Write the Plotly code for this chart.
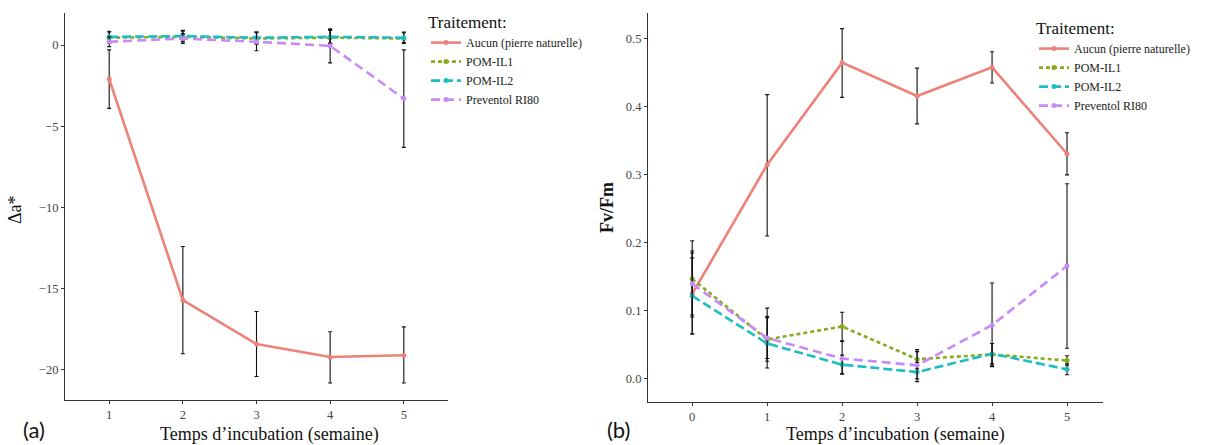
import plotly.graph_objects as go

# ---------------- data ----------------
series = ["Aucun (pierre naturelle)", "POM-IL1", "POM-IL2", "Preventol RI80"]

a_weeks = [1, 2, 3, 4, 5]
a_aucun = [-2.1, -15.7, -18.4, -19.2, -19.1]
a_aucun_hi = [-0.3, -12.4, -16.4, -17.65, -17.35]
a_aucun_lo = [-3.9, -19.0, -20.4, -20.8, -20.8]
a_il1 = [0.45, 0.5, 0.4, 0.45, 0.4]
a_il1_hi = [0.8, 0.85, 0.75, 0.9, 0.75]
a_il1_lo = [0.1, 0.2, 0.05, 0.1, 0.1]
a_il2 = [0.5, 0.55, 0.45, 0.5, 0.45]
a_il2_hi = [0.85, 0.9, 0.8, 0.95, 0.8]
a_il2_lo = [0.15, 0.25, 0.1, 0.1, 0.15]
a_prev = [0.2, 0.4, 0.2, -0.05, -3.3]
a_prev_hi = [0.5, 0.7, 0.8, 1.0, -0.3]
a_prev_lo = [-0.1, 0.1, -0.35, -1.1, -6.3]

b_weeks = [0, 1, 2, 3, 4, 5]
b_aucun = [0.125, 0.315, 0.465, 0.416, 0.458, 0.331]
b_aucun_hi = [0.185, 0.418, 0.515, 0.457, 0.481, 0.362]
b_aucun_lo = [0.066, 0.21, 0.414, 0.375, 0.435, 0.300]
b_il1 = [0.147, 0.058, 0.077, 0.029, 0.036, 0.027]
b_il1_hi = [0.203, 0.092, 0.098, 0.043, 0.052, 0.034]
b_il1_lo = [0.091, 0.026, 0.056, 0.015, 0.020, 0.020]
b_il2 = [0.122, 0.052, 0.021, 0.010, 0.037, 0.014]
b_il2_hi = [0.178, 0.104, 0.035, 0.024, 0.052, 0.022]
b_il2_lo = [0.066, 0.016, 0.007, -0.004, 0.022, 0.006]
b_prev = [0.140, 0.060, 0.030, 0.020, 0.079, 0.166]
b_prev_hi = [0.188, 0.090, 0.055, 0.040, 0.141, 0.287]
b_prev_lo = [0.094, 0.030, 0.008, 0.000, 0.018, 0.045]

colors = ["#EE8279", "#86AC1E", "#1DBDC2", "#C98AF5"]
dashes = ["solid", "4px,3px", "9px,4px", "9px,5px"]

SERIF = "Liberation Serif"

fig = go.Figure()


def add(x, y, hi, lo, i, xa, ya, legend):
    fig.add_trace(go.Scatter(
        x=x, y=y, mode="lines+markers", name=series[i],
        line=dict(color=colors[i], width=2.6, dash=dashes[i]),
        marker=dict(color=colors[i], size=5),
        error_y=dict(type="data", symmetric=False,
                     array=[h - v for h, v in zip(hi, y)],
                     arrayminus=[v - l for l, v in zip(lo, y)],
                     color="#111111", thickness=1.1, width=2),
        xaxis=xa, yaxis=ya, legend=legend,
    ))


a_sets = [(a_aucun, a_aucun_hi, a_aucun_lo), (a_il1, a_il1_hi, a_il1_lo),
          (a_il2, a_il2_hi, a_il2_lo), (a_prev, a_prev_hi, a_prev_lo)]
b_sets = [(b_aucun, b_aucun_hi, b_aucun_lo), (b_il1, b_il1_hi, b_il1_lo),
          (b_il2, b_il2_hi, b_il2_lo), (b_prev, b_prev_hi, b_prev_lo)]
for i, (y, hi, lo) in enumerate(a_sets):
    add(a_weeks, y, hi, lo, i, "x", "y", "legend")
for i, (y, hi, lo) in enumerate(b_sets):
    add(b_weeks, y, hi, lo, i, "x2", "y2", "legend2")

W, H = 1215, 445
ax_common = dict(showline=True, linecolor="#333333", linewidth=1.2, ticks="outside",
                 ticklen=3, tickcolor="#333333", showgrid=False, zeroline=False,
                 tickfont=dict(family=SERIF, size=12.5, color="#444444"))

legend_common = dict(
    title=dict(text="Traitement:", font=dict(family=SERIF, size=17, color="#111")),
    font=dict(family=SERIF, size=12, color="#222"),
    bgcolor="rgba(0,0,0,0)", xanchor="left", yanchor="top",
    tracegroupgap=0, itemwidth=30,
)

fig.update_layout(
    width=W, height=H, margin=dict(l=0, r=0, t=0, b=0),
    paper_bgcolor="white", plot_bgcolor="white",
    xaxis=dict(domain=[65 / W, 448 / W], range=[0.4, 5.6], tickvals=a_weeks,
               anchor="y", **ax_common),
    yaxis=dict(domain=[45 / H, 432 / H], range=[-21.85, 1.97],
               tickvals=[0, -5, -10, -15, -20], anchor="x", **ax_common),
    xaxis2=dict(domain=[648 / W, 1103 / W], range=[-0.59, 5.48], tickvals=b_weeks,
                anchor="y2", **ax_common),
    yaxis2=dict(domain=[43 / H, 432 / H], range=[-0.034, 0.538],
                tickvals=[0.0, 0.1, 0.2, 0.3, 0.4, 0.5],
                tickformat=".1f", anchor="x2", **ax_common),
    legend=dict(x=426 / W, y=1 - 6 / H, **legend_common),
    legend2=dict(x=1034 / W, y=1 - 12 / H, **legend_common),
    showlegend=True,
)

ann = [
    dict(text="Temps d\u2019incubation (semaine)", x=269 / W, y=1 - 434 / H,
         font=dict(family=SERIF, size=18, color="#111")),
    dict(text="Temps d\u2019incubation (semaine)", x=895 / W, y=1 - 434 / H,
         font=dict(family=SERIF, size=18, color="#111")),
    dict(text="\u0394a*", x=15 / W, y=1 - 210 / H, textangle=-90,
         font=dict(family=SERIF, size=18, color="#111")),
    dict(text="<b>Fv/Fm</b>", x=607 / W, y=1 - 208 / H, textangle=-90,
         font=dict(family=SERIF, size=18, color="#111")),
    dict(text="(a)", x=34 / W, y=1 - 429 / H,
         font=dict(family="Lato", size=22, color="#111")),
    dict(text="(b)", x=618 / W, y=1 - 429 / H,
         font=dict(family="Lato", size=22, color="#111")),
]
for a in ann:
    fig.add_annotation(xref="paper", yref="paper", showarrow=False,
                       xanchor="center", yanchor="middle", **a)

fig.write_html("out.html", config={"displayModeBar": False},
               post_script="document.body.style.margin='0';document.body.style.overflow='hidden';")
